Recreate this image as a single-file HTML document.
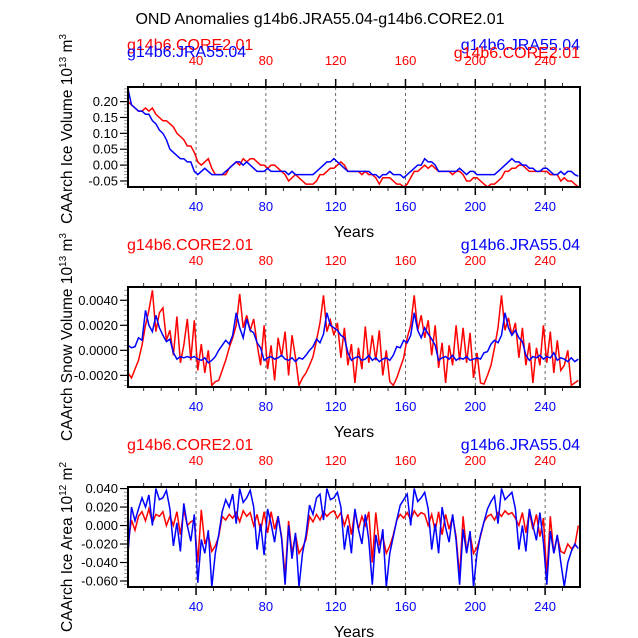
<!DOCTYPE html>
<html><head><meta charset="utf-8"><style>
body{margin:0;background:#fff}
svg{display:block;font-family:"Liberation Sans",sans-serif}
</style></head><body>
<svg id="c" width="638" height="638" viewBox="0 0 638 638">
<text x="320" y="24" font-size="16" text-anchor="middle">OND Anomalies g14b6.JRA55.04-g14b6.CORE2.01</text>
</svg>
<script>
const years=[];for(let i=0;i<130;i++)years.push(1+2*i);
const xTicks=[40,80,120,160,200,240];
const volRed=[0.20,0.19,0.18,0.17,0.17,0.18,0.17,0.18,0.16,0.15,0.14,0.14,0.13,0.12,0.10,0.09,0.08,0.06,0.06,0.04,0.01,0.00,0.01,0.02,-0.01,-0.03,-0.03,-0.03,-0.03,-0.01,0.00,0.01,0.00,0.02,0.01,0.02,0.02,0.01,0.00,0.00,-0.01,0.00,0.00,-0.01,-0.02,-0.03,-0.05,-0.04,-0.03,-0.04,-0.05,-0.06,-0.06,-0.06,-0.05,-0.03,-0.03,-0.02,-0.01,-0.01,0.00,0.01,0.00,-0.02,-0.02,-0.02,-0.02,-0.03,-0.02,-0.03,-0.03,-0.04,-0.06,-0.04,-0.04,-0.04,-0.05,-0.06,-0.06,-0.07,-0.06,-0.04,-0.02,-0.02,-0.01,0.00,-0.01,0.00,-0.01,-0.02,-0.02,-0.02,-0.02,-0.03,-0.02,-0.02,-0.03,-0.05,-0.05,-0.04,-0.04,-0.05,-0.06,-0.07,-0.06,-0.06,-0.05,-0.04,-0.02,-0.02,-0.01,-0.01,0.00,0.00,-0.01,-0.02,-0.02,-0.02,-0.02,-0.02,-0.02,-0.03,-0.03,-0.03,-0.05,-0.04,-0.05,-0.05,-0.06,-0.07];
const volBlue=[0.24,0.19,0.18,0.17,0.17,0.16,0.16,0.14,0.13,0.11,0.10,0.08,0.05,0.04,0.03,0.02,0.02,0.01,0.01,-0.02,-0.03,-0.02,-0.01,-0.02,-0.03,-0.03,-0.03,-0.03,-0.02,-0.01,0.00,0.01,0.01,0.00,0.01,0.00,-0.01,-0.02,-0.02,-0.02,-0.01,-0.02,-0.02,-0.02,-0.02,-0.02,-0.03,-0.02,-0.03,-0.03,-0.03,-0.03,-0.03,-0.03,-0.02,-0.01,0.00,0.01,0.01,0.02,0.01,0.00,-0.01,-0.02,-0.02,-0.02,-0.02,-0.02,-0.02,-0.02,-0.03,-0.03,-0.04,-0.03,-0.03,-0.02,-0.03,-0.03,-0.03,-0.04,-0.03,-0.02,-0.01,0.00,0.00,0.02,0.01,0.01,0.00,-0.02,-0.02,-0.02,-0.02,-0.02,-0.02,-0.01,-0.02,-0.03,-0.02,-0.02,-0.03,-0.03,-0.03,-0.03,-0.03,-0.03,-0.02,-0.01,0.00,0.01,0.02,0.01,0.01,0.00,0.00,-0.01,-0.01,-0.02,-0.02,-0.01,-0.01,-0.02,-0.03,-0.03,-0.02,-0.03,-0.02,-0.02,-0.03,-0.035];
const snowBlue=[0.0004,0.0002,0.0003,0.0010,0.0008,0.0032,0.0020,0.0015,0.0028,0.0018,0.0012,0.0007,0.0009,-0.0002,-0.0007,-0.0005,-0.0006,-0.0005,-0.0006,-0.0005,-0.0007,-0.0008,-0.0006,-0.0010,-0.0008,-0.0005,
0.0000,0.0004,0.0008,0.0005,0.0012,0.0030,0.0018,0.0010,0.0025,0.0016,0.0014,0.0006,0.0002,-0.0008,-0.0006,-0.0005,-0.0007,-0.0006,-0.0004,-0.0007,-0.0008,-0.0006,-0.0009,-0.0006,-0.0007,-0.0004,
0.0000,0.0003,0.0009,0.0006,0.0013,0.0030,0.0020,0.0018,0.0016,0.0012,0.0010,-0.0002,-0.0008,-0.0006,-0.0005,-0.0008,-0.0007,-0.0004,-0.0008,-0.0006,-0.0009,-0.0007,-0.0006,-0.0008,-0.0004,0.0003,
0.0002,0.0008,0.0006,0.0012,0.0030,0.0016,0.0010,0.0018,0.0013,0.0009,0.0004,-0.0008,-0.0006,-0.0005,-0.0007,-0.0004,-0.0008,-0.0006,-0.0007,-0.0005,-0.0008,-0.0007,-0.0006,-0.0007,-0.0002,-0.0001,
0.0005,0.0008,0.0006,0.0012,0.0030,0.0018,0.0012,0.0016,0.0010,0.0007,-0.0004,-0.0008,-0.0005,-0.0006,-0.0004,-0.0007,-0.0005,-0.0006,-0.0002,-0.0008,-0.0006,-0.0007,-0.0009,-0.0006,-0.0009,-0.0007];
const snowRed=[-0.0018,-0.0022,-0.0015,-0.0008,0.0004,0.0020,0.0032,0.0048,0.0015,0.0030,0.0034,0.0008,0.0016,-0.0004,0.0027,-0.0010,0.0004,0.0025,-0.0008,0.0024,-0.0016,0.0005,-0.0018,0.0000,-0.0028,-0.0025,
-0.0024,-0.0016,-0.0008,0.0002,0.0010,0.0020,0.0045,0.0018,0.0028,0.0016,0.0025,0.0005,-0.0012,0.0020,-0.0015,0.0004,-0.0024,0.0010,-0.0005,0.0015,-0.0020,0.0012,-0.0006,-0.0028,-0.0022,-0.0018,
-0.0012,-0.0005,0.0008,0.0022,0.0044,0.0015,0.0024,0.0012,0.0022,-0.0006,0.0018,-0.0012,0.0005,-0.0026,0.0002,-0.0015,0.0019,-0.0010,0.0012,-0.0008,0.0016,-0.0020,0.0000,-0.0025,-0.0028,-0.0022,
-0.0014,-0.0006,0.0010,0.0020,0.0044,0.0016,0.0028,0.0010,0.0024,-0.0004,0.0020,-0.0014,0.0006,-0.0026,0.0004,-0.0012,0.0020,-0.0008,0.0018,-0.0010,0.0014,-0.0022,-0.0002,-0.0026,-0.0027,-0.0020,
-0.0012,0.0002,0.0018,0.0044,0.0016,0.0026,0.0012,0.0022,-0.0006,0.0018,-0.0012,0.0006,-0.0026,0.0002,-0.0012,0.0020,-0.0010,0.0015,-0.0018,0.0008,-0.0016,-0.0012,0.0000,-0.0028,-0.0026,-0.0024];
const areaBlue=[-0.030,0.020,0.005,0.018,0.030,0.020,0.033,0.000,0.040,0.028,0.030,0.038,0.018,-0.022,0.003,-0.028,0.024,0.000,-0.017,0.012,-0.062,-0.015,-0.030,-0.005,-0.068,-0.030,
-0.010,0.015,0.028,0.020,0.034,0.002,0.040,0.025,0.030,0.038,0.020,-0.026,0.002,-0.032,0.018,0.002,-0.018,0.010,-0.014,-0.064,0.000,-0.036,-0.008,-0.068,-0.030,-0.010,
0.022,0.012,0.030,0.034,0.006,0.040,0.028,0.030,0.036,0.020,-0.026,0.000,-0.030,0.018,-0.004,-0.020,0.012,-0.016,-0.064,-0.010,-0.030,-0.004,-0.068,-0.030,-0.012,0.006,
0.022,0.028,0.034,0.000,0.040,0.026,0.030,0.036,0.018,-0.026,0.002,-0.030,0.020,-0.002,-0.018,0.012,-0.016,-0.064,-0.004,-0.030,-0.006,-0.068,-0.030,-0.010,0.004,0.018,
0.026,0.032,0.002,0.040,0.028,0.032,0.036,0.018,-0.026,0.000,-0.028,0.018,0.000,-0.016,0.014,-0.018,-0.064,-0.006,-0.030,-0.010,-0.040,-0.066,-0.040,-0.028,-0.020,-0.025];
const areaRed=[-0.020,0.006,-0.005,0.010,0.015,0.005,0.018,0.003,0.012,0.010,0.015,0.000,0.010,0.000,0.015,-0.010,0.017,0.000,0.004,0.006,-0.040,0.017,-0.020,-0.010,-0.028,-0.022,
-0.012,0.010,0.006,0.012,0.008,0.014,0.004,0.016,0.010,0.014,0.000,0.012,-0.006,0.015,-0.008,0.015,-0.004,0.010,-0.012,-0.055,0.005,-0.030,-0.010,-0.030,-0.024,-0.015,
0.010,0.004,0.012,0.006,0.015,0.010,0.014,0.016,0.008,0.014,0.000,0.012,-0.010,0.016,-0.004,0.010,0.000,0.015,-0.040,0.014,-0.020,-0.012,-0.030,-0.022,-0.010,0.006,
0.012,0.008,0.014,0.006,0.016,0.010,0.014,0.012,0.000,0.012,-0.006,0.015,-0.010,0.012,-0.004,0.010,-0.012,-0.055,0.010,-0.028,-0.010,-0.030,-0.024,-0.012,0.004,0.010,
0.012,0.006,0.014,0.010,0.016,0.012,0.014,0.008,0.000,0.014,-0.008,0.015,-0.004,0.012,-0.012,0.008,-0.055,0.010,-0.030,-0.012,-0.028,-0.030,-0.020,-0.025,-0.022,0.000];
const p1Ticks=[0.20,0.15,0.10,0.05,0.00,-0.05];
const p2Ticks=[0.004,0.002,0,-0.002];
const p3Ticks=[0.04,0.02,0,-0.02,-0.04,-0.06];

const NS="http://www.w3.org/2000/svg";
const svg=document.getElementById('c');
const X0=128,X1=580,XMIN=1,XMAX=260;
const xs=v=>X0+(v-XMIN)/(XMAX-XMIN)*(X1-X0);
function mk(tag,at,parent){const e=document.createElementNS(NS,tag);for(const k in at)e.setAttribute(k,at[k]);(parent||svg).appendChild(e);return e;}

function panel(cfg){
  const g=mk('g',{});
  
  
  const ys=v=>cfg.top+(cfg.ymax-v)/(cfg.ymax-cfg.ymin)*(cfg.bot-cfg.top);
  xTicks.forEach(t=>{const l=mk('line',{x1:xs(t),x2:xs(t),y1:cfg.top,y2:cfg.bot,stroke:'#444','stroke-width':0.8,'stroke-dasharray':'3,3'},g);
    });
  for(let t=10;t<=250;t+=10){const len=(t%40===0)?8:4;
    mk('line',{x1:xs(t),x2:xs(t),y1:cfg.top,y2:cfg.top-len,stroke:'#000','stroke-width':t%40===0?1.5:0.8},g);
    mk('line',{x1:xs(t),x2:xs(t),y1:cfg.bot,y2:cfg.bot+len,stroke:'#000','stroke-width':t%40===0?1.5:0.8},g);}
  const step=cfg.ticks[0]-cfg.ticks[1];
  for(let v=cfg.ticks[cfg.ticks.length-1]-step;v<=cfg.ymax+1e-9;v+=step/5){
    if(v<cfg.ymin-1e-9)continue;mk('line',{x1:X0,x2:X0-4,y1:ys(v),y2:ys(v),stroke:'#888','stroke-width':0.8},g);}
  cfg.ticks.forEach(v=>{mk('line',{x1:X0,x2:X0-8,y1:ys(v),y2:ys(v),stroke:'#000','stroke-width':1.2},g);
    const t=mk('text',{x:X0-10,y:ys(v)+4.5,'font-size':13,'text-anchor':'end'},g);t.textContent=v.toFixed(cfg.dec);
    });
  [[cfg.red,'#f00'],[cfg.blue,'#00f']].forEach(([arr,c],k)=>{
    const p=mk('polyline',{points:arr.map((v,i)=>xs(years[i]).toFixed(1)+','+ys(Math.max(cfg.ymin,Math.min(cfg.ymax,v))).toFixed(1)).join(' '),fill:'none',stroke:c,'stroke-width':1.5},g);
    });
  const box=mk('rect',{x:X0,y:cfg.top,width:X1-X0,height:cfg.bot-cfg.top,fill:'none',stroke:'#000','stroke-width':2},g);
  
  xTicks.forEach(t=>{
    const a=mk('text',{x:xs(t),y:cfg.top-22,'font-size':13,'text-anchor':'middle',fill:'#f00'},g);a.textContent=t;
    
    const b=mk('text',{x:xs(t),y:cfg.bot+24,'font-size':13,'text-anchor':'middle',fill:'#00f'},g);b.textContent=t;
    });
  const yt=mk('text',{x:X1-226,y:cfg.bot+50,'font-size':16,'text-anchor':'middle'},g);yt.textContent='Years';
  
  const cy=(cfg.top+cfg.bot)/2+cfg.labOff;
  const yl=mk('text',{x:0,y:0,'font-size':15.5,'text-anchor':'middle',transform:`translate(72,${cy}) rotate(-90)`},g);
  yl.innerHTML=cfg.label+' 10<tspan dy="-6" font-size="10">'+cfg.exp+'</tspan><tspan dy="6"> m</tspan><tspan dy="-6" font-size="10">'+cfg.u+'</tspan>';
  
  cfg.legend.forEach(([txt,x,y,c,anc])=>{const t=mk('text',{x,y,'font-size':16,fill:c,'text-anchor':anc},g);t.textContent=txt;
    });
}
panel({name:'ice-volume-panel',top:87,bot:187,ymin:-0.069,ymax:0.246,ticks:p1Ticks,dec:2,red:volRed,blue:volBlue,label:'CAArch Ice Volume',exp:'13',u:'3',labOff:-8,
  legend:[['g14b6.CORE2.01',127,50,'#f00','start'],['g14b6.JRA55.04',127,57,'#00f','start'],['g14b6.JRA55.04',580,50,'#00f','end'],['g14b6.CORE2.01',580,58,'#f00','end']]});
panel({name:'snow-volume-panel',top:287,bot:387,ymin:-0.00293,ymax:0.00506,ticks:p2Ticks,dec:4,red:snowRed,blue:snowBlue,label:'CAArch Snow Volume',exp:'13',u:'3',labOff:0,
  legend:[['g14b6.CORE2.01',127,250,'#f00','start'],['g14b6.JRA55.04',580,250,'#00f','end']]});
panel({name:'ice-area-panel',top:487,bot:587,ymin:-0.0665,ymax:0.0417,ticks:p3Ticks,dec:3,red:areaRed,blue:areaBlue,label:'CAArch Ice Area',exp:'12',u:'2',labOff:10,
  legend:[['g14b6.CORE2.01',127,450,'#f00','start'],['g14b6.JRA55.04',580,450,'#00f','end']]});
</script>
</body></html>
